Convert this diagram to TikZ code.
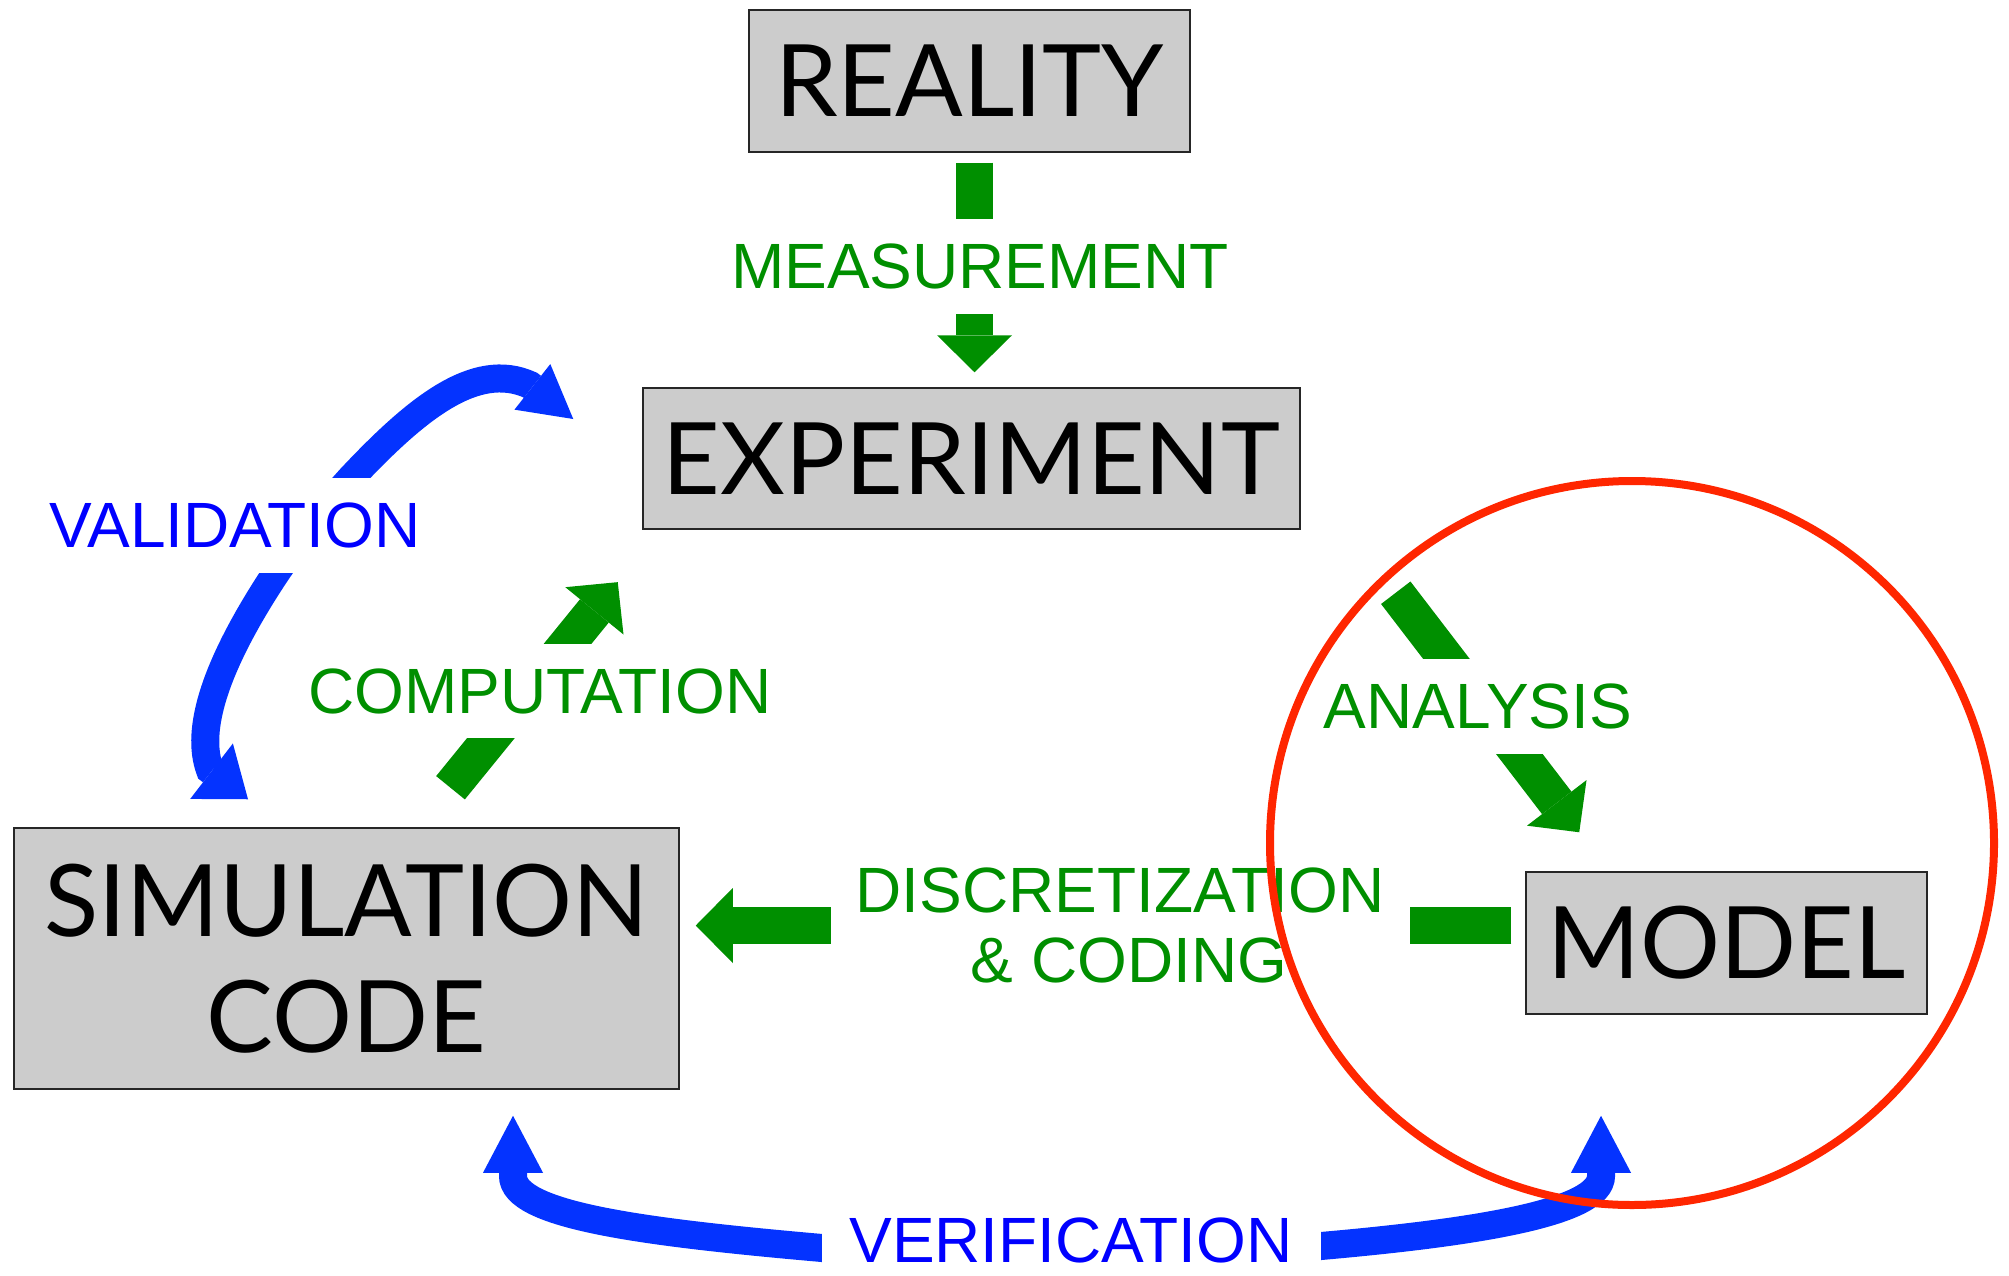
\documentclass[tikz,border=0pt]{standalone}
\usepackage{fontspec}
\setmainfont{Liberation Sans}
\newfontfamily\stagefont{Lato}
\usetikzlibrary{arrows.meta}

\definecolor{boxgray}{HTML}{CCCCCC}
\definecolor{flowgreen}{HTML}{008F00}
\definecolor{loopblue}{HTML}{0433FF}
\definecolor{textblue}{HTML}{0000FF}
\definecolor{focusred}{HTML}{FF2600}

\begin{document}
\begin{tikzpicture}[x=1pt,y=-1pt,
  stage/.style={draw=black!85, line width=1.5pt, fill=boxgray, inner sep=0pt,
    font=\stagefont\fontsize{100}{116}\selectfont, align=center},
  greenflow/.style={draw=flowgreen, line width=37pt,
    -{Triangle[length=37pt,width=75pt,line width=0pt]}},
  blueloop/.style={draw=loopblue, line width=28pt},
  greentag/.style={fill=white, text=flowgreen, inner sep=0pt,
    font=\fontsize{64}{70}\selectfont},
  bluetag/.style={fill=white, text=textblue, inner sep=0pt,
    font=\fontsize{64}{70}\selectfont},
]
% page area
\fill[white] (0,0) rectangle (2009,1276);
\useasboundingbox (0,0) rectangle (2009,1276);

% the four stages
\node[stage, minimum width=441pt, minimum height=142pt] (reality) at (969.5,81) {REALITY};
\node[stage, minimum width=657pt, minimum height=141pt] (experiment) at (971.5,458.5) {EXPERIMENT};
\node[stage, minimum width=665pt, minimum height=261pt] (sim) at (346.5,958.5) {SIMULATION\\CODE};
\node[stage, minimum width=401pt, minimum height=142pt] (model) at (1726.5,943) {MODEL};

% green process arrows
\draw[greenflow] ([shift={(5,10)}]reality.south) -- ([shift={(3,-15)}]experiment.north);
\draw[greenflow] ([shift={(104,-39.5)}]sim.north) -- ([shift={(-24.5,52.4)}]experiment.south west);
\draw[greenflow] ([shift={(95,63)}]experiment.south east) -- ([shift={(54,-39)}]model.north west);
\draw[greenflow] ([shift={(-14,-17.5)}]model.west) -- ([shift={(16,-33)}]sim.east);

% blue validation loop (double headed, curved)
\draw[blueloop, {Triangle[length=52pt,width=58pt,line width=0pt]}-{Triangle[length=46pt,width=70pt,line width=0pt]}]
  ([shift={(-69,-39.5)}]experiment.west) -- (530,385)
  .. controls (475,360) and (415,410) .. (351,478)
  .. controls (320,512) and (295,545) .. (276,573)
  .. controls (215,665) and (195,730) .. (210,770)
  -- ([shift={(-98.5,-28)}]sim.north);

% blue verification loop
\draw[blueloop, {Triangle[length=57pt,width=60pt,line width=0pt]}-{Triangle[length=57pt,width=60pt,line width=0pt]}]
  ([shift={(166.5,26)}]sim.south) -- (513,1176)
  .. controls (513,1215) and (640,1232) .. (822,1248)
  -- (1321,1246)
  .. controls (1480,1232) and (1601,1212) .. (1601,1176)
  -- ([shift={(-125.5,101)}]model.south);

% labels sitting in the gaps of the arrows
\node[greentag, minimum height=95pt, inner xsep=10pt] (measure) at (980,266.5) {MEASUREMENT};
\node[greentag, minimum height=94pt, inner xsep=10pt] (compute) at (540,691) {COMPUTATION};
\node[greentag, minimum height=95pt, inner xsep=10pt] (analyse) at (1478,706.5) {ANALYSIS};
\node[greentag, minimum width=579pt, align=center] (discret) at (1120,925.5) {DISCRETIZATION\\\hspace*{18pt}\& CODING};
\node[bluetag, minimum height=95pt, inner xsep=10pt] (valid) at (235,525.5) {VALIDATION};
\node[bluetag, minimum width=499pt, inner ysep=3pt] (verify) at (1071,1240) {VERIFICATION};

% highlighted region round the model
\node[draw=focusred, line width=8pt, circle, minimum size=724pt, inner sep=0pt] (focus) at (1632,843) {};
\end{tikzpicture}
\end{document}
